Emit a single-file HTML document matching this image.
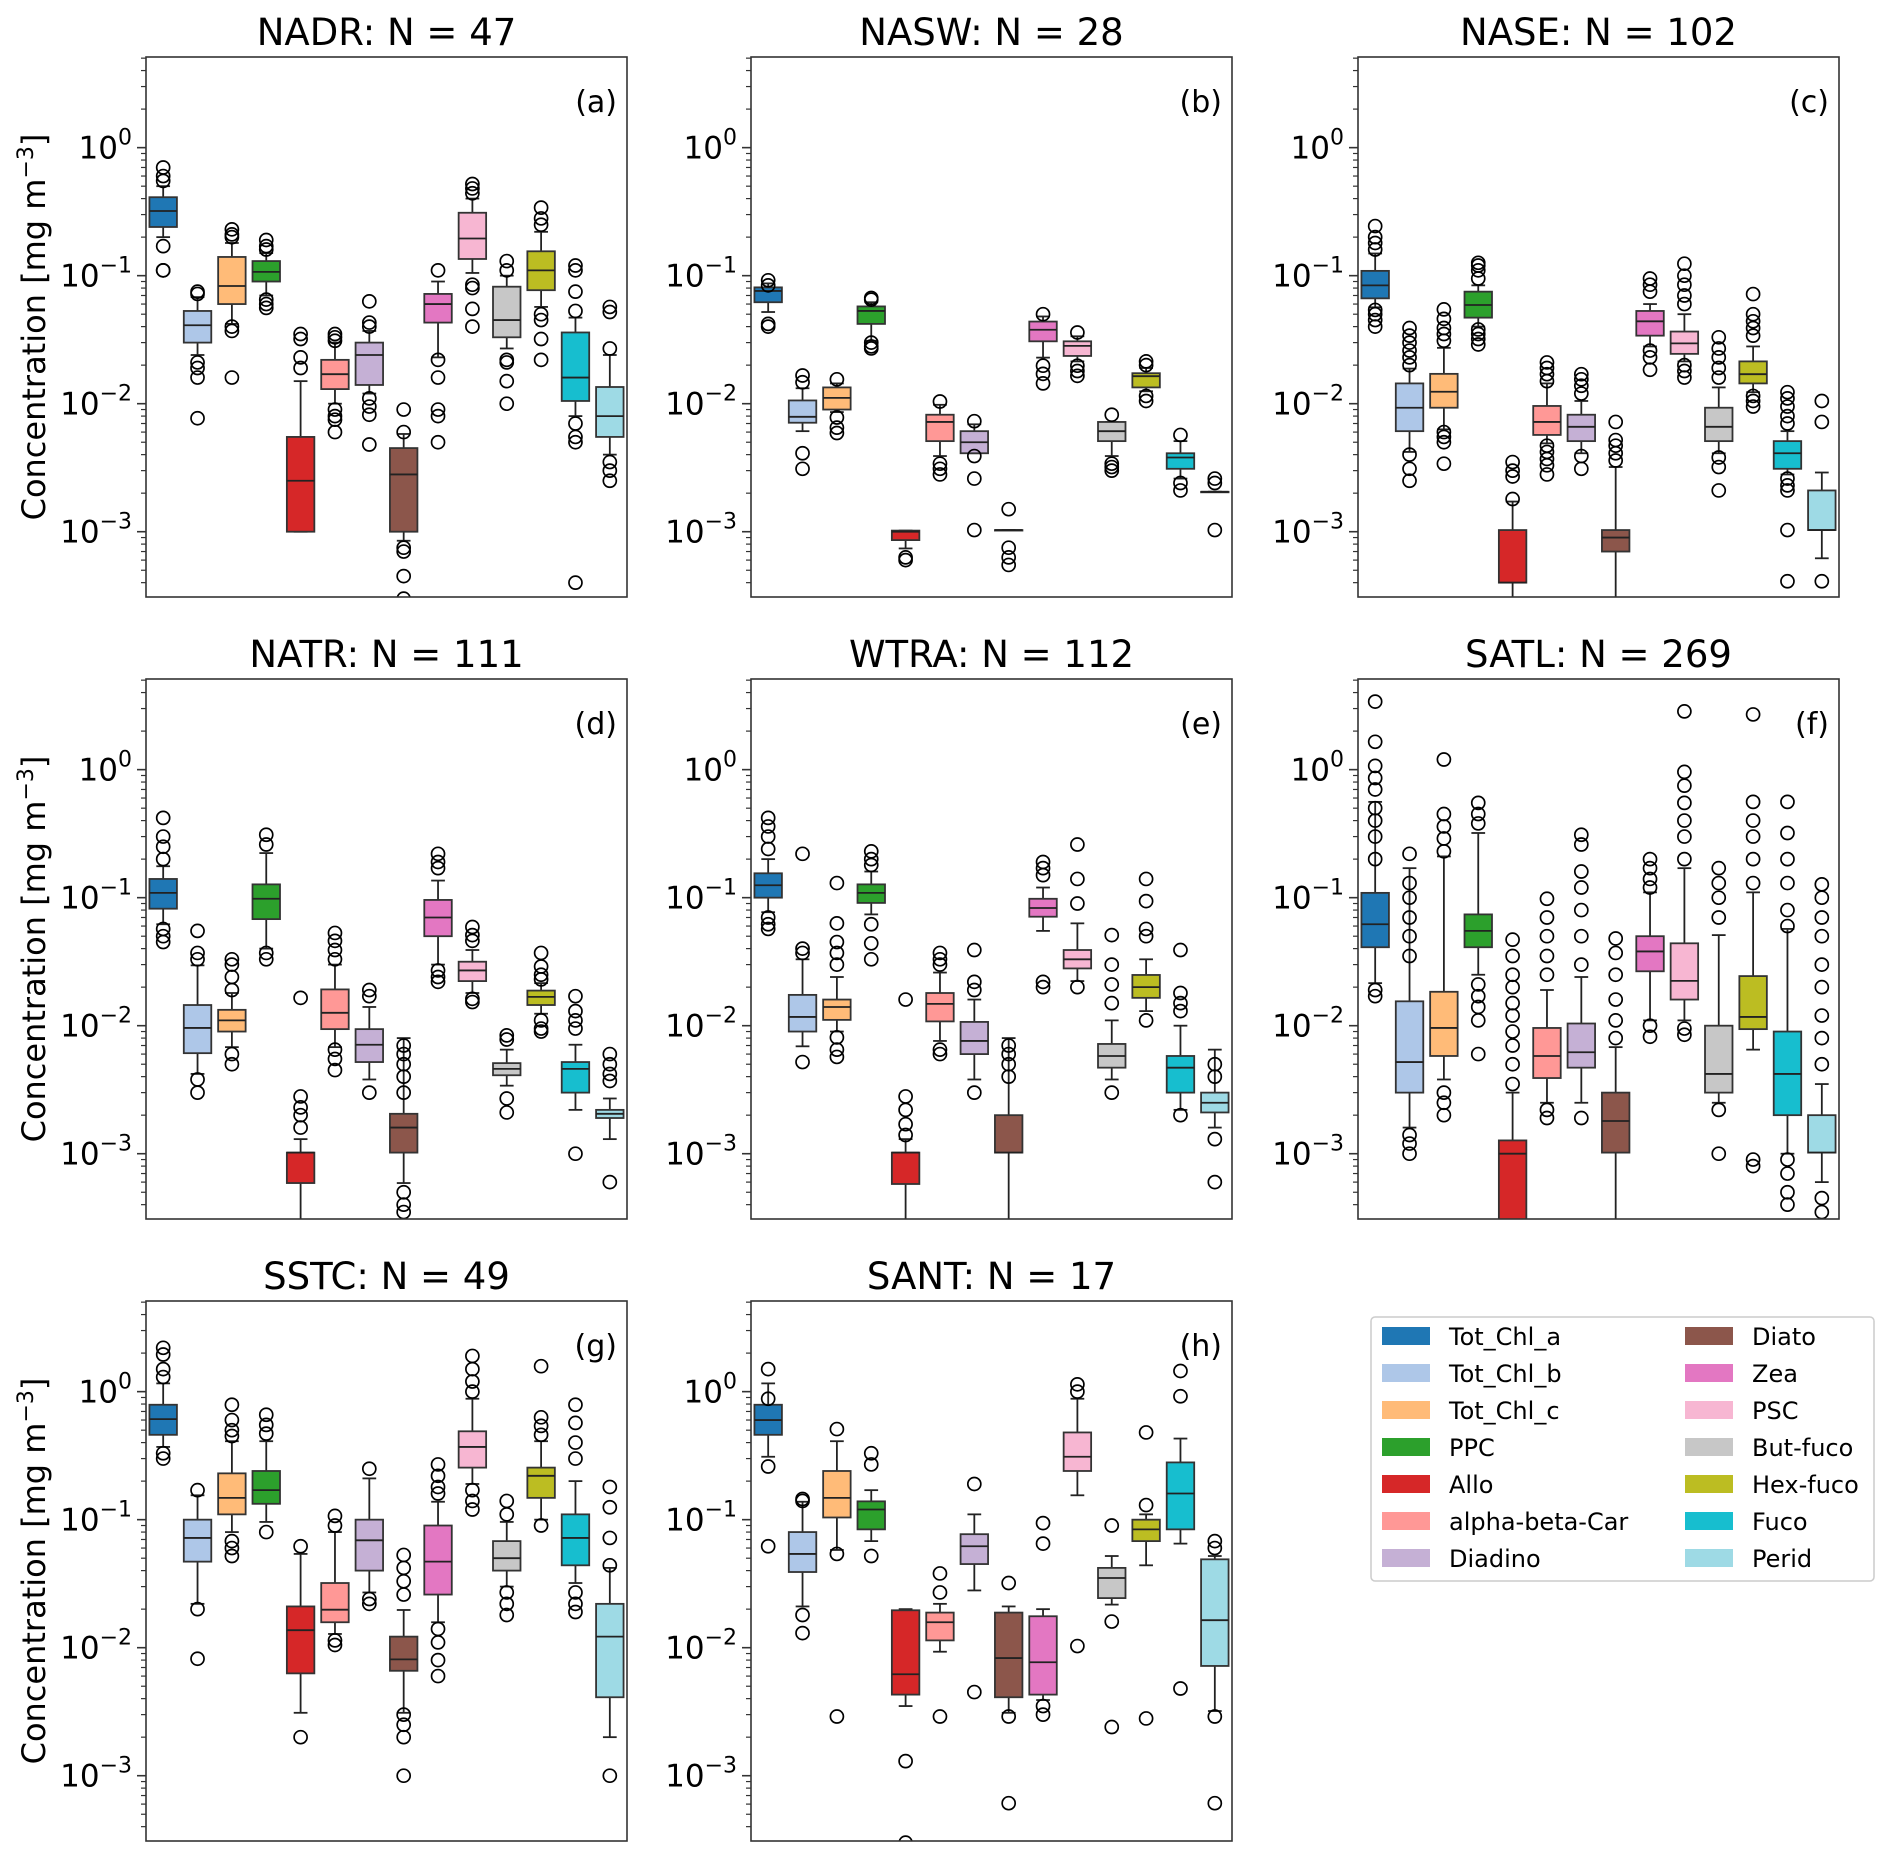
<!DOCTYPE html>
<html><head><meta charset="utf-8"><style>
html,body{margin:0;padding:0;background:#fff;}
svg{display:block;font-family:"DejaVu Sans","Liberation Sans",sans-serif;}
</style></head><body>
<svg id="fig" width="1892" height="1862" viewBox="0 0 1892 1862" xmlns="http://www.w3.org/2000/svg"></svg>
<script>
const pigments=["Tot_Chl_a","Tot_Chl_b","Tot_Chl_c","PPC","Allo","alpha-beta-Car","Diadino","Diato","Zea","PSC","But-fuco","Hex-fuco","Fuco","Perid"];
const colors=["#1f77b4","#aec7e8","#ffbb78","#2ca02c","#d62728","#ff9896","#c5b0d5","#8c564b","#e377c2","#f7b6d2","#c7c7c7","#bcbd22","#17becf","#9edae5"];
const titles=["NADR: N = 47","NASW: N = 28","NASE: N = 102","NATR: N = 111","WTRA: N = 112","SATL: N = 269","SSTC: N = 49","SANT: N = 17"];
const letters=["(a)","(b)","(c)","(d)","(e)","(f)","(g)","(h)"];
const yTicks=[1,0.1,0.01,0.001];
const yTickExp=["0","\u22121","\u22122","\u22123"];
const Q1=[
[0.24,0.03,0.06,0.09,0.001,0.013,0.014,0.001,0.043,0.135,0.033,0.077,0.0105,0.0055],
[0.062,0.0071,0.009,0.042,0.00086,0.0051,0.0041,0.00103,0.0307,0.0236,0.0051,0.0134,0.0031,0.00205],
[0.0665,0.0061,0.0093,0.047,0.0004,0.0057,0.0051,0.0007,0.034,0.0245,0.0051,0.0144,0.0031,0.00103],
[0.082,0.0061,0.009,0.068,0.00059,0.0094,0.0052,0.00102,0.05,0.0223,0.0041,0.0145,0.003,0.0019],
[0.1,0.009,0.0111,0.091,0.00058,0.0108,0.006,0.00102,0.071,0.028,0.0047,0.0165,0.003,0.0021],
[0.041,0.003,0.0058,0.041,0.0001,0.0039,0.0047,0.00102,0.0266,0.016,0.003,0.0094,0.002,0.00102],
[0.46,0.047,0.11,0.133,0.0063,0.0158,0.04,0.0066,0.026,0.255,0.04,0.148,0.044,0.0041],
[0.46,0.039,0.104,0.084,0.0043,0.0114,0.045,0.0041,0.0043,0.24,0.0244,0.068,0.084,0.0072]];
const MED=[
[0.32,0.041,0.083,0.107,0.0025,0.017,0.024,0.0028,0.06,0.195,0.045,0.11,0.016,0.008],
[0.076,0.0079,0.0111,0.053,0.001,0.0072,0.005,0.00103,0.0378,0.0283,0.0061,0.0164,0.0038,0.00205],
[0.084,0.0093,0.0124,0.059,0.0004,0.0072,0.0066,0.0009,0.044,0.0296,0.0066,0.017,0.0041,0.00103],
[0.109,0.0096,0.011,0.098,0.00102,0.0126,0.0071,0.0016,0.07,0.027,0.0046,0.0168,0.0046,0.00205],
[0.125,0.0117,0.014,0.109,0.00102,0.0148,0.0076,0.00102,0.083,0.033,0.0058,0.02,0.0047,0.0025],
[0.062,0.0052,0.0096,0.055,0.001,0.0058,0.0062,0.0018,0.038,0.0224,0.0042,0.0117,0.0042,0.00102],
[0.61,0.072,0.148,0.17,0.0137,0.0198,0.069,0.0081,0.047,0.37,0.05,0.22,0.072,0.0122],
[0.6,0.054,0.148,0.12,0.0062,0.0158,0.062,0.0083,0.0077,0.31,0.035,0.084,0.16,0.0164]];
const Q3=[
[0.41,0.053,0.14,0.13,0.0055,0.022,0.03,0.0045,0.072,0.31,0.082,0.155,0.036,0.0135],
[0.081,0.0106,0.0134,0.0575,0.00102,0.0082,0.0061,0.00103,0.0438,0.0307,0.0072,0.0173,0.0041,0.00205],
[0.109,0.0144,0.0171,0.075,0.00103,0.0096,0.0082,0.00103,0.053,0.0366,0.0093,0.0214,0.0051,0.0021],
[0.14,0.0145,0.0133,0.127,0.00102,0.0192,0.0094,0.00205,0.096,0.0316,0.0051,0.0188,0.0052,0.0022],
[0.155,0.0174,0.016,0.127,0.00102,0.018,0.0107,0.002,0.098,0.039,0.0072,0.0249,0.0058,0.003],
[0.109,0.0155,0.0184,0.074,0.00127,0.0096,0.0104,0.003,0.05,0.044,0.01,0.0244,0.009,0.002],
[0.79,0.1,0.23,0.24,0.021,0.032,0.1,0.0122,0.09,0.49,0.068,0.255,0.11,0.022],
[0.79,0.08,0.24,0.139,0.0196,0.0188,0.077,0.0188,0.0176,0.48,0.042,0.1,0.28,0.049]];
const WLO=[
[0.2,0.024,0.042,0.07,0.001,0.01,0.012,0.00085,0.023,0.105,0.027,0.057,0.008,0.004],
[0.052,0.0061,0.0086,0.031,0.00074,0.0039,0.0041,0.00103,0.0229,0.0214,0.0039,0.0125,0.0026,0.00205],
[0.0566,0.0042,0.0063,0.04,0.0001,0.0049,0.0041,0.0001,0.028,0.0214,0.0041,0.0123,0.0028,0.00062],
[0.062,0.0042,0.0068,0.04,0.0001,0.0068,0.0038,0.00059,0.03,0.018,0.0034,0.0124,0.0022,0.0013],
[0.077,0.0069,0.009,0.074,0.0001,0.0076,0.0038,0.0001,0.055,0.0223,0.0038,0.013,0.0022,0.0016],
[0.0215,0.0016,0.0038,0.025,0.0001,0.0025,0.0025,0.0001,0.011,0.011,0.0025,0.0065,0.001,0.0006],
[0.37,0.022,0.08,0.096,0.0031,0.0128,0.027,0.0031,0.0158,0.19,0.03,0.1,0.032,0.002],
[0.31,0.021,0.058,0.068,0.0035,0.0093,0.028,0.0031,0.0039,0.155,0.0217,0.044,0.065,0.0032]];
const WHI=[
[0.5,0.068,0.18,0.15,0.015,0.03,0.037,0.0058,0.09,0.4,0.1,0.22,0.047,0.024],
[0.087,0.0132,0.0144,0.062,0.00102,0.0098,0.0069,0.00103,0.048,0.0336,0.0072,0.019,0.0051,0.00205],
[0.149,0.0188,0.0273,0.084,0.00172,0.0144,0.0105,0.0032,0.06,0.05,0.0134,0.028,0.0061,0.0029],
[0.176,0.0296,0.018,0.223,0.0013,0.03,0.014,0.008,0.136,0.039,0.0065,0.0215,0.0071,0.0027],
[0.2,0.033,0.024,0.16,0.0013,0.026,0.016,0.008,0.12,0.063,0.011,0.033,0.01,0.0065],
[0.56,0.17,0.21,0.32,0.003,0.019,0.024,0.0068,0.11,0.17,0.051,0.11,0.057,0.0035],
[1.16,0.155,0.41,0.41,0.054,0.08,0.21,0.0197,0.138,0.88,0.096,0.41,0.2,0.042],
[1.16,0.138,0.41,0.17,0.02,0.022,0.11,0.021,0.02,0.88,0.052,0.11,0.43,0.052]];
const OUT=[
[[0.7,0.6,0.55,0.17,0.11,0.11],[0.075,0.072,0.021,0.019,0.016,0.0077],[0.23,0.21,0.2,0.04,0.037,0.016],[0.19,0.17,0.16,0.065,0.06,0.056],[0.035,0.032,0.023,0.019],[0.035,0.033,0.031,0.009,0.008,0.0075,0.006],[0.063,0.043,0.04,0.011,0.0095,0.0082,0.0048],[0.009,0.006,0.00075,0.0007,0.00045,0.0003],[0.11,0.022,0.016,0.009,0.008,0.005],[0.52,0.48,0.44,0.085,0.08,0.055,0.04],[0.13,0.11,0.022,0.021,0.015,0.01],[0.34,0.28,0.25,0.05,0.045,0.032,0.022],[0.12,0.11,0.075,0.053,0.007,0.0055,0.005,0.0004],[0.057,0.052,0.027,0.0035,0.003,0.0025]],
[[0.092,0.084,0.042,0.04],[0.0166,0.0147,0.0041,0.0031],[0.0155,0.0078,0.0065,0.0059],[0.067,0.065,0.03,0.028,0.027],[0.00063,0.0006],[0.0104,0.0034,0.0031,0.0028],[0.0073,0.0039,0.0026,0.00103],[0.0015,0.00075,0.00063,0.00055],[0.05,0.0198,0.0171,0.0144],[0.036,0.0198,0.018,0.0165],[0.0082,0.0034,0.0032,0.003],[0.0214,0.02,0.0115,0.0105],[0.0057,0.0024,0.0021],[0.0026,0.0024,0.00103]],
[[0.244,0.2,0.18,0.16,0.054,0.05,0.045,0.04],[0.039,0.034,0.03,0.026,0.023,0.02,0.004,0.0031,0.0025],[0.0545,0.046,0.039,0.035,0.031,0.006,0.0055,0.005,0.0034],[0.126,0.12,0.11,0.095,0.038,0.035,0.032,0.029],[0.0035,0.003,0.0027,0.0018],[0.021,0.019,0.017,0.015,0.0047,0.0042,0.0037,0.0033,0.0028],[0.017,0.0155,0.0138,0.012,0.0039,0.0031],[0.0072,0.0052,0.0047,0.0041,0.0036],[0.095,0.085,0.075,0.026,0.023,0.0184],[0.124,0.1,0.085,0.07,0.06,0.02,0.018,0.016],[0.033,0.027,0.023,0.019,0.016,0.0038,0.0032,0.0021],[0.0718,0.05,0.044,0.039,0.034,0.0115,0.0105,0.0095],[0.0123,0.011,0.0095,0.008,0.007,0.0026,0.0023,0.0021,0.00103,0.00041],[0.0105,0.0072,0.00041]],
[[0.42,0.3,0.25,0.2,0.057,0.05,0.045],[0.055,0.037,0.033,0.0038,0.003],[0.033,0.03,0.024,0.019,0.006,0.005],[0.31,0.26,0.037,0.033],[0.0165,0.0028,0.0023,0.002,0.0016],[0.053,0.046,0.039,0.033,0.0065,0.0055,0.0045],[0.019,0.017,0.003],[0.007,0.006,0.005,0.004,0.003,0.0005,0.0004,0.00035],[0.22,0.19,0.17,0.027,0.024,0.022],[0.059,0.051,0.046,0.0162,0.0153],[0.0084,0.0078,0.0027,0.0021],[0.037,0.029,0.025,0.023,0.011,0.0095,0.009],[0.017,0.013,0.011,0.0095,0.001],[0.006,0.005,0.0042,0.0037,0.0006]],
[[0.42,0.36,0.3,0.24,0.07,0.062,0.057],[0.22,0.04,0.037,0.0052],[0.13,0.063,0.045,0.037,0.03,0.0081,0.0065,0.0057],[0.23,0.2,0.18,0.062,0.044,0.033],[0.016,0.0028,0.0022,0.0017,0.0014],[0.037,0.033,0.03,0.0065,0.006],[0.039,0.022,0.019,0.003],[0.007,0.006,0.005,0.004],[0.19,0.17,0.15,0.022,0.02],[0.26,0.14,0.09,0.02],[0.051,0.03,0.021,0.015,0.003],[0.14,0.094,0.057,0.05,0.011],[0.039,0.018,0.015,0.013,0.002],[0.005,0.004,0.0013,0.0006]],
[[3.4,1.65,1.07,0.86,0.7,0.5,0.4,0.3,0.2,0.019,0.017],[0.22,0.13,0.1,0.07,0.05,0.035,0.0014,0.0012,0.001],[1.2,0.45,0.36,0.29,0.23,0.003,0.0025,0.002],[0.55,0.45,0.38,0.021,0.017,0.014,0.011,0.006],[0.047,0.035,0.025,0.02,0.015,0.012,0.009,0.007,0.005,0.0035],[0.098,0.07,0.05,0.035,0.025,0.0022,0.0019],[0.31,0.26,0.16,0.12,0.08,0.05,0.03,0.0019],[0.048,0.037,0.025,0.016,0.011,0.008],[0.2,0.17,0.14,0.12,0.01,0.0082],[2.85,0.96,0.75,0.55,0.4,0.3,0.2,0.0095,0.0085],[0.17,0.13,0.1,0.07,0.0022,0.001],[2.7,0.56,0.4,0.3,0.2,0.13,0.0009,0.0008],[0.56,0.32,0.2,0.13,0.08,0.06,0.0009,0.0007,0.0005,0.0004],[0.127,0.1,0.07,0.05,0.03,0.02,0.012,0.008,0.005,0.00045,0.00035]],
[[2.2,1.95,1.5,1.3,0.33,0.3],[0.17,0.02,0.0082],[0.79,0.6,0.5,0.45,0.068,0.06,0.052],[0.66,0.55,0.47,0.08],[0.062,0.002],[0.107,0.09,0.0114,0.0105],[0.25,0.024,0.022],[0.053,0.042,0.033,0.026,0.003,0.0025,0.002,0.001],[0.27,0.22,0.18,0.16,0.014,0.011,0.008,0.006],[1.9,1.5,1.2,1.0,0.17,0.14,0.12],[0.14,0.11,0.027,0.022,0.018],[1.58,0.63,0.54,0.46,0.09],[0.79,0.57,0.4,0.3,0.027,0.022,0.019],[0.18,0.125,0.072,0.044,0.001]],
[[1.5,0.88,0.26,0.062],[0.145,0.14,0.018,0.013],[0.51,0.054,0.0029],[0.33,0.27,0.052],[0.0013,0.0003],[0.038,0.027,0.0029],[0.19,0.0045],[0.032,0.0029,0.00061],[0.094,0.065,0.0035,0.003],[1.14,1.0,0.0103],[0.09,0.016,0.0024],[0.48,0.13,0.0028],[1.45,0.92,0.0048],[0.068,0.06,0.0029,0.00061]]];

const NS="http://www.w3.org/2000/svg";
const svg=document.getElementById("fig");
function mk(tag,attrs,parent){const e=document.createElementNS(NS,tag);for(const k in attrs)e.setAttribute(k,attrs[k]);(parent||svg).appendChild(e);return e;}
const colX=[146,751,1358],rowY=[57,679,1301],PW=481,PH=540;
const LMIN=-3.51,LMAX=0.708;
const defs=mk("defs",{});
for(let p=0;p<8;p++){
  const x0=colX[p%3],y0=rowY[Math.floor(p/3)];
  const yS=v=>y0+PH*(LMAX-Math.log10(v))/(LMAX-LMIN);
  const xS=i=>x0+PW*(i+0.5)/14;
  const g=mk("g",{});
  
  
  const cp=mk("clipPath",{id:"cp"+p},defs);mk("rect",{x:x0,y:y0,width:PW,height:PH},cp);
  const t=mk("text",{x:x0+PW/2,y:y0-12,"text-anchor":"middle","font-size":"37"},g);t.textContent=titles[p];
  
  
  const plot=mk("g",{"clip-path":"url(#cp"+p+")"},g);
  for(let i=0;i<14;i++){
    const cx=xS(i),bw=PW/14*0.8,cw=bw/2;
    const bg=mk("g",{},plot);
    
    
    const q1=yS(Q1[p][i]),q3=yS(Q3[p][i]),md=yS(MED[p][i]),wl=yS(WLO[p][i]),wh=yS(WHI[p][i]);
    mk("line",{x1:cx,x2:cx,y1:q3,y2:wh,stroke:"#222","stroke-width":1.8},bg);
    mk("line",{x1:cx,x2:cx,y1:q1,y2:wl,stroke:"#222","stroke-width":1.8},bg);
    mk("line",{x1:cx-cw/2,x2:cx+cw/2,y1:wh,y2:wh,stroke:"#222","stroke-width":1.8},bg);
    mk("line",{x1:cx-cw/2,x2:cx+cw/2,y1:wl,y2:wl,stroke:"#222","stroke-width":1.8},bg);
    mk("rect",{x:cx-bw/2,y:q3,width:bw,height:Math.max(q1-q3,0.5),fill:colors[i],stroke:"#333","stroke-width":1.8},bg);
    mk("line",{x1:cx-bw/2,x2:cx+bw/2,y1:md,y2:md,stroke:"#222","stroke-width":1.8},bg);
    for(const o of OUT[p][i]){mk("circle",{cx:cx,cy:yS(o),r:6.5,fill:"none",stroke:"#000","stroke-width":1.7},bg);}
  }
  const fr=mk("rect",{x:x0,y:y0,width:PW,height:PH,fill:"none",stroke:"#333","stroke-width":1.6},g);
  
  
  const lt=mk("text",{x:x0+PW-10,y:y0+55,"text-anchor":"end","font-size":"30"},g);lt.textContent=letters[p];
  
  
  for(let d=-4;d<=0;d++)for(let m=2;m<=9;m++){const v=m*Math.pow(10,d);const l=Math.log10(v);if(l<LMIN||l>LMAX)continue;const y=yS(v);mk("line",{x1:x0-5,x2:x0,y1:y,y2:y,stroke:"#333","stroke-width":1.2},g);}
  yTicks.forEach((v,k)=>{const y=yS(v);mk("line",{x1:x0-9,x2:x0,y1:y,y2:y,stroke:"#333","stroke-width":1.6},g);
    const tx=mk("text",{x:x0-14,y:y+11,"text-anchor":"end","font-size":"31"},g);
    
    
    const a=mk("tspan",{},tx);a.textContent="10";const b=mk("tspan",{dy:"-14","font-size":"22"},tx);b.textContent=yTickExp[k];});
  if(p%3===0){
    const yl=mk("text",{x:0,y:0,"text-anchor":"middle","font-size":"32",transform:"translate(45,"+(y0+PH/2)+") rotate(-90)"},g);
    
    
    const a=mk("tspan",{},yl);a.textContent="Concentration [mg m";const b=mk("tspan",{dy:"-12","font-size":"22"},yl);b.textContent="\u22123";const c=mk("tspan",{dy:"12"},yl);c.textContent="]";
  }
}
const lg=mk("g",{});


mk("rect",{x:1371,y:1317,width:503,height:264,rx:4,fill:"#fff",stroke:"#ccc","stroke-width":1.5},lg);
pigments.forEach((n,i)=>{
  const col=i<7?0:1,row=i%7;
  const sx=col?1685:1382,ty=1336+row*37;
  const e=mk("g",{},lg);
  
  
  mk("rect",{x:sx,y:ty-9,width:48,height:18,fill:colors[i]},e);
  const t=mk("text",{x:sx+67,y:ty+9,"font-size":"24"},e);t.textContent=n;
});
</script>
</body></html>
